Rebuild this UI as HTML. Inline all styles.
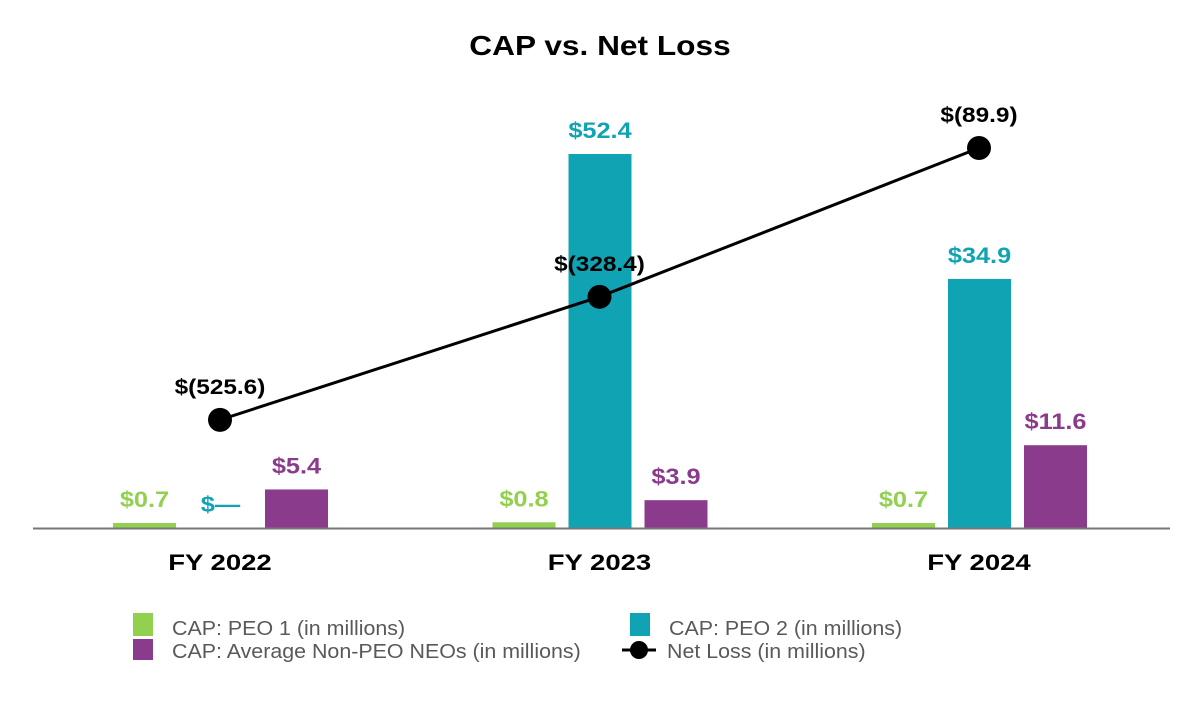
<!DOCTYPE html>
<html><head><meta charset="utf-8"><style>
body{margin:0;background:#fff;font-family:"Liberation Sans",Arial,sans-serif}
svg text{font-family:"Liberation Sans",Arial,sans-serif}
</style></head><body>
<svg id="chart" width="1200" height="700">
<text class="st" data-f="1.13" x="600" y="55" text-anchor="middle" font-size="28" font-weight="bold" fill="#000">CAP vs. Net Loss</text>
<g id="bars"></g>
<line x1="33" y1="528.5" x2="1170" y2="528.5" stroke="#777" stroke-width="2"/>
<g id="line"></g>
<g id="legend" font-size="20" fill="#595959">
<g><rect x="133" y="613" width="20" height="23" fill="#92D050"/><text class="st" data-f="1.07" x="172" y="635" fill="#595959">CAP: PEO 1 (in millions)</text></g>
<g><rect x="630" y="613" width="20" height="23" fill="#0FA3B3"/><text class="st" data-f="1.07" x="669" y="635" fill="#595959">CAP: PEO 2 (in millions)</text></g>
<g><rect x="133" y="639" width="20" height="21" fill="#8B3B8B"/><text class="st" data-f="1.07" x="172" y="658" fill="#595959">CAP: Average Non-PEO NEOs (in millions)</text></g>
<g><line x1="622" y1="650" x2="656" y2="650" stroke="#000" stroke-width="3"/><circle cx="639" cy="650" r="9" fill="#000"/><text class="st" data-f="1.07" x="667" y="658" fill="#595959">Net Loss (in millions)</text></g>
</g>
</svg>
<script>
const categories=["FY 2022","FY 2023","FY 2024"];
const peo1=[0.7,0.8,0.7];
const peo2=[0,52.4,34.9];
const nonPeo=[5.4,3.9,11.6];
const netLoss=[-525.6,-328.4,-89.9];
const peo1Labels=["$0.7","$0.8","$0.7"];
const peo2Labels=["$—","$52.4","$34.9"];
const nonPeoLabels=["$5.4","$3.9","$11.6"];
const netLossLabels=["$(525.6)","$(328.4)","$(89.9)"];
const NS="http://www.w3.org/2000/svg";
const base=528, ppu=7.137;
function yBar(v){return base-v*ppu;}
function yLine(v){return 148-0.624*(v+89.9);}
function xCenter(i){return 220+i*379.5;}
function mk(tag,attrs,parent){const e=document.createElementNS(NS,tag);for(const k in attrs)e.setAttribute(k,attrs[k]);parent.appendChild(e);return e;}
const bars=document.getElementById('bars');
const series=[[peo1,peo1Labels,"#92D050",-107,"peo1"],[peo2,peo2Labels,"#0FA3B3",-31,"peo2"],[nonPeo,nonPeoLabels,"#8B3B8B",45,"non-peo"]];
categories.forEach((c,i)=>{
  const cx=xCenter(i);
  series.forEach(s=>{
    const v=s[0][i],x=cx+s[3];
    const top=yBar(v);
    if(v>0){const r=mk('rect',{x:x,y:top,width:63,height:base-top,fill:s[2]},bars);
      
      }
    const t=mk('text',{x:x+31.5,y:top-16,'text-anchor':'middle','font-size':22,'font-weight':'bold',fill:s[2],'class':'st','data-f':'1.15'},bars);
    t.textContent=s[1][i];
    
    
  });
  const lab=mk('text',{x:cx,y:570,'text-anchor':'middle','font-size':22,'font-weight':'bold',fill:'#000','class':'st','data-f':'1.25'},bars);
  lab.textContent=c;
  
  
});
const lg=document.getElementById('line');
const pts=netLoss.map((v,i)=>xCenter(i)+','+yLine(v)).join(' ');
const pl=mk('polyline',{points:pts,fill:'none',stroke:'#000','stroke-width':3},lg);


netLoss.forEach((v,i)=>{
  const c=mk('circle',{cx:xCenter(i),cy:yLine(v),r:12,fill:'#000'},lg);
  
  
  const t=mk('text',{x:xCenter(i),y:yLine(v)-26,'text-anchor':'middle','font-size':21,'font-weight':'bold',fill:'#000','class':'st','data-f':'1.16'},lg);
  t.textContent=netLossLabels[i];
  
  
});
document.querySelectorAll('text.st').forEach(t=>{
  const f=parseFloat(t.getAttribute('data-f'));
  t.setAttribute('textLength',(t.getComputedTextLength()*f).toFixed(1));
  t.setAttribute('lengthAdjust','spacingAndGlyphs');
});
</script>
</body></html>
